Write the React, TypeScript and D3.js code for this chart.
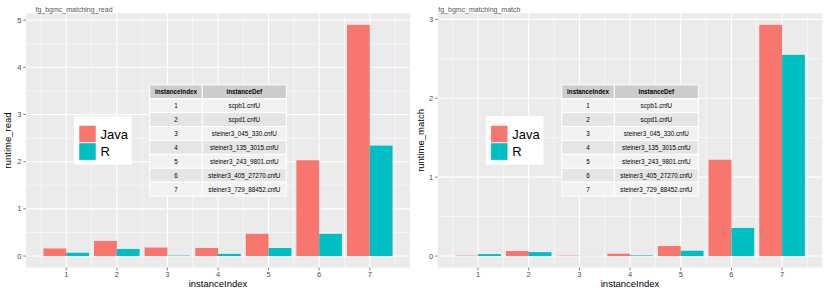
import * as d3 from 'd3';

const instanceIndex = [1, 2, 3, 4, 5, 6, 7];
const instanceDef = [
  'scpb1.cnfU',
  'scpd1.cnfU',
  'steiner3_045_330.cnfU',
  'steiner3_135_3015.cnfU',
  'steiner3_243_9801.cnfU',
  'steiner3_405_27270.cnfU',
  'steiner3_729_88452.cnfU',
];
const languages = ['Java', 'R'];
const readJava = [0.16, 0.32, 0.18, 0.17, 0.47, 2.03, 4.9];
const readR = [0.07, 0.15, 0.01, 0.045, 0.17, 0.47, 2.34];
const matchJava = [0.005, 0.063, 0.005, 0.03, 0.127, 1.22, 2.93];
const matchR = [0.025, 0.05, 0.002, 0.008, 0.067, 0.356, 2.55];
const readTicks = [0, 1, 2, 3, 4, 5];
const matchTicks = [0, 1, 2, 3];

const W = 830;
const H = 298;
const TOP = 13.3;
const BOTTOM = 267.6;
const FONT = 'Liberation Sans, Arial, Helvetica, sans-serif';
const COLORS = ['#F8766D', '#00BFC4'];
const BAR_W = 0.9;

interface PanelProps {
  title: string;
  yLabel: string;
  java: number[];
  r: number[];
  ticks: number[];
  left: number;
  right: number;
  titleX: number;
  yLabelX: number;
}

function Panel({ title, yLabel, java, r, ticks, left, right, titleX, yLabelX }: PanelProps) {
  // continuous x like ggplot: bars span [0.55, 7.45], 5% expansion
  const xMin = 1 - BAR_W / 2;
  const xMax = 7 + BAR_W / 2;
  const xPad = (xMax - xMin) * 0.05;
  const x = d3.scaleLinear().domain([xMin - xPad, xMax + xPad]).range([left, right]);

  const yMax = d3.max([...java, ...r]) ?? 1;
  const yPad = yMax * 0.05;
  const y = d3.scaleLinear().domain([-yPad, yMax + yPad]).range([BOTTOM, TOP]);

  const xMinor = d3.range(0.5, 8, 1).filter((v) => v >= x.domain()[0] && v <= x.domain()[1]);
  const yMinor = ticks.map((v) => v + 0.5).filter((v) => v >= y.domain()[0] && v <= y.domain()[1]);

  const series = [java, r];
  const half = BAR_W / 2;

  // table + legend positioning (relative to panel)
  const cx = (left + right) / 2;
  const cy = (TOP + BOTTOM) / 2;
  const col1 = 52.6;
  const col2 = 84;
  const rowH = 13.9;
  const tW = col1 + col2;
  const tH = rowH * (instanceDef.length + 1);
  const tx = cx - tW / 2;
  const ty = cy - tH / 2;

  const legX = left + (right - left) * 0.2 - 28.8;
  const legY = cy - 24.3;

  return (
    <g>
      <rect x={left} y={TOP} width={right - left} height={BOTTOM - TOP} fill="#EBEBEB" />
      <text x={titleX} y={11.5} fontSize={7} fill="#555" fontFamily={FONT}>{title}</text>
      {xMinor.map((v) => (
        <line key={'xm' + v} x1={x(v)} x2={x(v)} y1={TOP} y2={BOTTOM} stroke="#fff" strokeWidth={0.55} />
      ))}
      {yMinor.map((v) => (
        <line key={'ym' + v} x1={left} x2={right} y1={y(v)} y2={y(v)} stroke="#fff" strokeWidth={0.55} />
      ))}
      {instanceIndex.map((v) => (
        <line key={'xg' + v} x1={x(v)} x2={x(v)} y1={TOP} y2={BOTTOM} stroke="#fff" strokeWidth={1.1} />
      ))}
      {ticks.map((v) => (
        <line key={'yg' + v} x1={left} x2={right} y1={y(v)} y2={y(v)} stroke="#fff" strokeWidth={1.1} />
      ))}

      {series.map((vals, si) =>
        vals.map((v, i) => {
          const x0 = x(instanceIndex[i] - half + si * half);
          const x1 = x(instanceIndex[i] + si * half);
          return (
            <rect
              key={si + '-' + i}
              x={x0}
              y={y(v)}
              width={x1 - x0}
              height={y(0) - y(v)}
              fill={COLORS[si]}
            />
          );
        })
      )}

      {/* table annotation */}
      <g fontFamily={FONT} fontSize={6.3}>
        <rect x={tx} y={ty} width={col1} height={rowH} fill="#CCCCCC" stroke="#fff" strokeWidth={1} />
        <rect x={tx + col1} y={ty} width={col2} height={rowH} fill="#CCCCCC" stroke="#fff" strokeWidth={1} />
        <text x={tx + col1 / 2} y={ty + rowH / 2} textAnchor="middle" dominantBaseline="central" fontWeight="bold">instanceIndex</text>
        <text x={tx + col1 + col2 / 2} y={ty + rowH / 2} textAnchor="middle" dominantBaseline="central" fontWeight="bold">instanceDef</text>
        {instanceDef.map((d, i) => {
          const ry = ty + rowH * (i + 1);
          const fill = i % 2 === 0 ? '#F2F2F2' : '#E5E5E5';
          return (
            <g key={d}>
              <rect x={tx} y={ry} width={col1} height={rowH} fill={fill} stroke="#fff" strokeWidth={1} />
              <rect x={tx + col1} y={ry} width={col2} height={rowH} fill={fill} stroke="#fff" strokeWidth={1} />
              <text x={tx + col1 / 2} y={ry + rowH / 2} textAnchor="middle" dominantBaseline="central">{instanceIndex[i]}</text>
              <text x={tx + col1 + col2 / 2} y={ry + rowH / 2} textAnchor="middle" dominantBaseline="central">{d}</text>
            </g>
          );
        })}
      </g>

      {/* legend */}
      <rect x={legX} y={legY} width={57.6} height={48.6} fill="#fff" />
      {languages.map((l, i) => (
        <g key={l}>
          <rect x={legX + 5} y={legY + 9.4 + i * 17.4} width={17} height={17.2} fill={COLORS[i]} stroke="#fff" strokeWidth={0.5} />
          <text x={legX + 26.5} y={legY + 18 + i * 17.4} fontSize={13} fontFamily={FONT} dominantBaseline="central" fill="#000">{l}</text>
        </g>
      ))}

      {/* y axis */}
      {ticks.map((v) => (
        <g key={'yt' + v}>
          <line x1={left - 2.7} x2={left} y1={y(v)} y2={y(v)} stroke="#333" strokeWidth={0.6} />
          <text x={left - 4.5} y={y(v)} textAnchor="end" dominantBaseline="central" fontSize={7.5} fill="#4D4D4D" fontFamily={FONT}>{v}</text>
        </g>
      ))}
      {/* x axis */}
      {instanceIndex.map((v) => (
        <g key={'xt' + v}>
          <line x1={x(v)} x2={x(v)} y1={BOTTOM} y2={BOTTOM + 2.7} stroke="#333" strokeWidth={0.6} />
          <text x={x(v)} y={BOTTOM + 7} textAnchor="middle" dominantBaseline="central" fontSize={7.5} fill="#4D4D4D" fontFamily={FONT}>{v}</text>
        </g>
      ))}
      <text x={(left + right) / 2} y={BOTTOM + 16} textAnchor="middle" dominantBaseline="central" fontSize={9.5} fill="#000" fontFamily={FONT}>instanceIndex</text>
      <text
        transform={`translate(${yLabelX},${(TOP + BOTTOM) / 2}) rotate(-90)`}
        textAnchor="middle"
        dominantBaseline="central"
        fontSize={9.5}
        fill="#000"
        fontFamily={FONT}
      >
        {yLabel}
      </text>
    </g>
  );
}

export default function App() {
  return (
    <svg
      width={W}
      height={H}
      style={{ position: 'absolute', left: 0, top: 0, display: 'block', background: '#fff' }}
    >
      <rect width={W} height={H} fill="#fff" />
      <Panel
        title="fg_bgmc_matching_read"
        yLabel="runtime_read"
        java={readJava}
        r={readR}
        ticks={readTicks}
        left={26}
        right={410}
        titleX={35.5}
        yLabelX={7.5}
      />
      <Panel
        title="fg_bgmc_matching_match"
        yLabel="runtime_match"
        java={matchJava}
        r={matchR}
        ticks={matchTicks}
        left={437.7}
        right={822.4}
        titleX={438.3}
        yLabelX={420}
      />
    </svg>
  );
}
